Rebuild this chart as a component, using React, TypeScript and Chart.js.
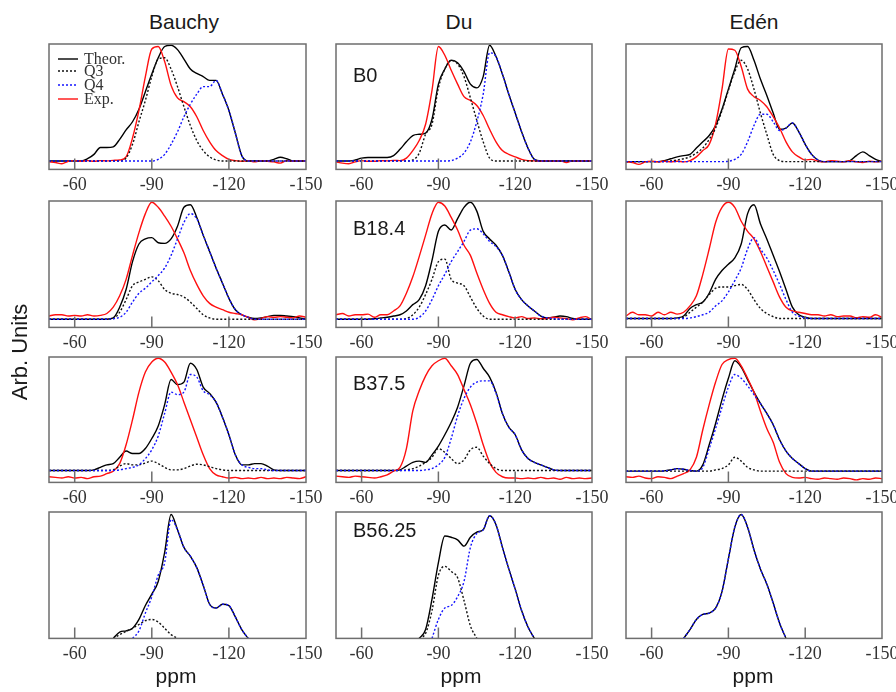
import React, { useEffect, useRef } from "react";
import { Chart, registerables } from "chart.js";

Chart.register(...registerables);

const N = null;

// ---------- DATA ----------
const PPM = [-50, -52.5, -55, -57.5, -60, -62.5, -65, -67.5, -70, -72.5, -75, -77.5, -80, -82.5, -85, -87.5, -90, -92.5, -95, -97.5, -100, -102.5, -105, -107.5, -110, -112.5, -115, -117.5, -120, -122.5, -125, -127.5, -130, -132.5, -135, -137.5, -140, -142.5, -145, -147.5, -150];
const TICK_VALUES = [-60, -90, -120, -150];
const TICK_MARKS = [-60, -90, -120];
const AUTHORS = ["Bauchy", "Du", "Edén"];
const SAMPLES = ["B0", "B18.4", "B37.5", "B56.25"];
const SERIES_NAMES = ["Theor.", "Q3", "Q4", "Exp."];
const X_TITLE = "ppm";
const Y_TITLE = "Arb. Units";

// Row 1: B0
const bauchyB0Theor = [.067, .067, .067, .067, .067, .067, .085, .12, .175, .175, .18, .24, .315, .38, .48, .62, .76, .89, .98, .99, .955, .88, .80, .765, .74, .71, .71, .60, .47, .29, .11, .067, .067, .067, .067, .08, .097, .085, .067, .067, .067];
const bauchyB0Q3 = [.067, .067, .067, .067, .067, .067, .067, .067, .067, .067, .067, .067, .09, .2, .38, .55, .74, .88, .89, .8, .66, .5, .35, .23, .15, .1, .075, .067, .067, .067, .067, .067, .067, .067, .067, .067, .067, .067, .067, .067, .067];
const bauchyB0Q4 = [.067, .067, .067, .067, .067, .067, .067, .067, .067, .067, .067, .067, .067, .067, .067, .067, .067, .08, .12, .2, .3, .42, .52, .6, .66, .66, .71, .6, .47, .29, .11, .067, .067, .067, .067, .067, .067, .067, .067, .067, .067];
const bauchyB0Exp = [.06, .055, .045, .065, .07, .065, .07, .065, .07, .068, .072, .075, .1, .25, .47, .74, .96, .98, .86, .67, .57, .54, .5, .42, .31, .22, .15, .11, .08, .07, .065, .07, .06, .07, .065, .06, .05, .07, .065, .07, .065];

const duB0Theor = [.067, .067, .067, .075, .09, .095, .095, .095, .095, .11, .16, .22, .27, .28, .29, .4, .68, .8, .87, .85, .78, .68, .65, .74, .99, .9, .76, .6, .45, .3, .17, .08, .067, .067, .067, .067, .067, .067, .067, .067, .067];
const duB0Q3 = [.067, .067, .067, .067, .067, .067, .067, .067, .067, .067, .067, .067, .075, .13, .28, .36, .65, .8, .87, .84, .74, .57, .39, .22, .09, .067, .067, .067, .067, .067, .067, .067, .067, .067, .067, .067, .067, .067, .067, .067, .067];
const duB0Q4 = [.067, .067, .067, .067, .067, .067, .067, .067, .067, .067, .067, .067, .067, .067, .067, .067, .067, .067, .07, .09, .13, .22, .38, .6, .93, .9, .76, .6, .45, .3, .17, .08, .067, .067, .067, .067, .067, .067, .067, .067, .067];
const duB0Exp = [.06, .05, .045, .06, .07, .065, .065, .07, .068, .072, .07, .09, .15, .23, .36, .63, .98, .91, .79, .68, .58, .55, .51, .43, .32, .22, .15, .12, .1, .08, .07, .068, .065, .07, .065, .07, .055, .068, .065, .07, .065];

const edenB0Theor = [.062, .062, .062, .062, .062, .062, .07, .085, .1, .11, .12, .17, .22, .27, .35, .48, .64, .8, .97, .98, .87, .72, .59, .45, .32, .33, .37, .3, .2, .12, .075, .062, .062, .062, .062, .07, .11, .14, .11, .08, .062];
const edenB0Q3 = [.062, .062, .062, .062, .062, .062, .062, .068, .075, .085, .1, .13, .17, .24, .33, .47, .63, .78, .87, .8, .64, .45, .28, .12, .07, .062, .062, .062, .062, .062, .062, .062, .062, .062, .062, .062, .062, .062, .062, .062, .062];
const edenB0Q4 = [.062, .062, .062, .062, .062, .062, .062, .062, .062, .062, .062, .062, .062, .062, .062, .062, .065, .08, .12, .22, .35, .44, .44, .38, .31, .33, .37, .3, .2, .12, .075, .062, .062, .062, .062, .062, .062, .062, .062, .062, .062];
const edenB0Exp = [.06, .055, .04, .06, .065, .06, .065, .06, .065, .06, .07, .1, .15, .2, .36, .64, .96, .95, .82, .64, .58, .55, .5, .42, .33, .22, .14, .1, .075, .08, .065, .06, .07, .065, .06, .07, .06, .055, .065, .06, .065];

// Row 2: B18.4
const bauchyB18Theor = [.065, .065, .065, .065, .065, .065, .065, .065, .065, .065, .075, .16, .3, .52, .66, .7, .71, .67, .665, .7, .8, .95, .97, .87, .73, .6, .47, .35, .23, .14, .1, .08, .07, .075, .085, .095, .095, .09, .085, .075, .065];
const bauchyB18Q3 = [.065, .065, .065, .065, .065, .065, .065, .065, .065, .065, .07, .12, .22, .33, .36, .38, .4, .37, .3, .27, .26, .24, .2, .15, .1, .075, .065, .065, .065, .065, .065, .065, .065, .065, .065, .065, .065, .065, .065, .065, .065];
const bauchyB18Q4 = [.065, .065, .065, .065, .065, .065, .065, .065, .065, .065, .068, .08, .12, .2, .27, .31, .36, .41, .47, .57, .7, .83, .9, .86, .73, .6, .47, .35, .23, .14, .1, .08, .065, .065, .065, .065, .065, .065, .065, .065, .065];
const bauchyB18Exp = [.09, .1, .1, .09, .095, .09, .1, .09, .095, .11, .16, .25, .38, .57, .75, .9, .99, .95, .88, .8, .7, .59, .45, .34, .25, .19, .16, .14, .12, .11, .1, .08, .06, .07, .085, .08, .085, .08, .075, .09, .08];

const duB18Theor = [.065, .065, .065, .065, .065, .065, .068, .075, .08, .09, .1, .13, .18, .22, .33, .53, .76, .81, .77, .86, .95, .99, .92, .76, .7, .65, .57, .44, .3, .22, .17, .13, .09, .075, .08, .09, .085, .07, .065, .065, .065];
const duB18Q3 = [.065, .065, .065, .065, .065, .065, .065, .065, .065, .065, .065, .07, .1, .16, .26, .38, .52, .54, .38, .35, .33, .24, .15, .09, .065, .065, .065, .065, .065, .065, .065, .065, .065, .065, .065, .065, .065, .065, .065, .065, .065];
const duB18Q4 = [.065, .065, .065, .065, .065, .065, .065, .065, .065, .065, .065, .065, .065, .08, .13, .22, .33, .42, .52, .6, .68, .77, .78, .74, .68, .64, .57, .44, .3, .22, .17, .13, .09, .075, .07, .065, .065, .065, .065, .065, .065];
const duB18Exp = [.1, .11, .09, .1, .1, .105, .08, .1, .1, .13, .17, .27, .4, .56, .73, .9, .99, .96, .87, .77, .65, .57, .43, .3, .19, .12, .1, .085, .075, .085, .07, .075, .068, .07, .08, .075, .07, .06, .075, .085, .06];

const edenB18Theor = [.07, .07, .07, .07, .07, .07, .07, .07, .075, .09, .15, .18, .2, .27, .38, .45, .5, .55, .66, .9, .97, .82, .7, .57, .44, .3, .16, .1, .08, .07, .07, .07, .07, .07, .07, .07, .07, .07, .07, .07, .07];
const edenB18Q3 = [.07, .07, .07, .07, .07, .07, .07, .07, .07, .08, .12, .16, .2, .26, .31, .32, .32, .33, .34, .3, .22, .15, .11, .085, .07, .07, .07, .07, .07, .07, .07, .07, .07, .07, .07, .07, .07, .07, .07, .07, .07];
const edenB18Q4 = [.07, .07, .07, .07, .07, .07, .07, .07, .07, .07, .075, .085, .1, .12, .17, .21, .28, .37, .47, .62, .71, .62, .55, .45, .34, .22, .12, .09, .075, .07, .07, .07, .07, .07, .07, .07, .07, .07, .07, .07, .07];
const edenB18Exp = [.09, .12, .1, .1, .09, .12, .1, .12, .105, .12, .17, .25, .42, .62, .83, .95, .99, .95, .84, .76, .7, .6, .48, .36, .24, .16, .13, .12, .11, .1, .1, .09, .1, .085, .09, .09, .075, .085, .08, .1, .08];

// Row 3: B37.5
const bauchyB37Theor = [.095, .095, .095, .095, .095, .095, .095, .1, .12, .14, .15, .2, .25, .23, .23, .27, .35, .45, .62, .82, .78, .8, .95, .9, .76, .71, .64, .52, .38, .22, .14, .14, .15, .15, .13, .1, .095, .095, .095, .095, .095];
const bauchyB37Q3 = [.095, .095, .095, .095, .095, .095, .095, .095, .095, .095, .1, .13, .15, .14, .14, .155, .17, .15, .12, .1, .1, .11, .13, .145, .14, .125, .11, .1, .095, .095, .095, .095, .095, .095, .095, .095, .095, .095, .095, .095, .095];
const bauchyB37Q4 = [.095, .095, .095, .095, .095, .095, .095, .095, .095, .095, .095, .1, .11, .12, .14, .19, .26, .37, .55, .72, .7, .72, .86, .84, .73, .7, .64, .52, .38, .22, .14, .12, .11, .11, .1, .095, .095, .095, .095, .095, .095];
const bauchyB37Exp = [.045, .04, .035, .045, .035, .04, .03, .045, .05, .07, .09, .15, .3, .5, .72, .88, .96, .99, .96, .88, .78, .64, .5, .36, .22, .11, .06, .045, .035, .04, .03, .035, .03, .04, .03, .035, .03, .04, .035, .03, .045];

const duB37Theor = [.095, .095, .095, .095, .095, .095, .095, .095, .095, .095, .1, .13, .16, .17, .16, .22, .29, .38, .48, .6, .77, .95, .98, .91, .84, .72, .55, .44, .38, .26, .19, .16, .14, .12, .1, .095, .095, .095, .095, .095, .095];
const duB37Q3 = [.095, .095, .095, .095, .095, .095, .095, .095, .095, .095, .095, .1, .11, .13, .16, .2, .27, .24, .19, .15, .18, .26, .28, .21, .15, .11, .095, .095, .095, .095, .095, .095, .095, .095, .095, .095, .095, .095, .095, .095, .095];
const duB37Q4 = [.095, .095, .095, .095, .095, .095, .095, .095, .095, .095, .095, .095, .095, .095, .1, .11, .14, .2, .35, .53, .67, .76, .8, .81, .81, .71, .55, .44, .38, .26, .19, .16, .14, .12, .1, .095, .095, .095, .095, .095, .095];
const duB37Exp = [.05, .045, .04, .05, .045, .04, .035, .045, .06, .09, .12, .27, .57, .73, .85, .93, .97, .99, .93, .86, .74, .62, .47, .3, .16, .08, .045, .035, .035, .03, .035, .03, .04, .03, .035, .025, .04, .03, .035, .03, .035];

const edenB37Theor = [.09, .09, .09, .09, .09, .09, .092, .1, .11, .105, .095, .09, .14, .3, .47, .66, .83, .97, .92, .82, .72, .63, .55, .46, .34, .25, .19, .15, .11, .09, .09, .09, .09, .09, .09, .09, .09, .09, .09, .09, .09];
const edenB37Q3 = [.09, .09, .09, .09, .09, .09, .09, .09, .09, .09, .09, .09, .09, .09, .1, .11, .14, .2, .17, .12, .1, .09, .09, .09, .09, .09, .09, .09, .09, .09, .09, .09, .09, .09, .09, .09, .09, .09, .09, .09, .09];
const edenB37Q4 = [.09, .09, .09, .09, .09, .09, .092, .1, .11, .105, .095, .09, .12, .27, .43, .6, .76, .86, .83, .77, .7, .63, .55, .46, .34, .25, .19, .15, .11, .09, .09, .09, .09, .09, .09, .09, .09, .09, .09, .09, .09];
const edenB37Exp = [.045, .04, .05, .035, .03, .045, .04, .03, .05, .07, .1, .2, .42, .62, .8, .94, .98, .99, .93, .83, .72, .57, .43, .32, .16, .07, .04, .035, .04, .03, .025, .035, .03, .025, .035, .03, .02, .03, .025, .035, .03];

// Row 4: B56.25 (no experimental spectrum)
const bauchyB56Theor = [N, N, N, N, N, N, N, N, N, N, 0, .05, .06, .08, .15, .26, .35, .45, .68, .98, .86, .72, .65, .56, .42, .27, .24, .27, .26, .17, .07, 0, N, N, N, N, N, N, N, N, N];
const bauchyB56Q3 = [N, N, N, N, N, N, N, N, N, N, 0, .03, .055, .08, .11, .14, .15, .13, .08, .03, 0, N, N, N, N, N, N, N, N, N, N, N, N, N, N, N, N, N, N, N, N];
const bauchyB56Q4 = [N, N, N, N, N, N, N, N, N, N, N, N, N, 0, .06, .2, .33, .5, .6, .94, .86, .72, .65, .56, .42, .27, .24, .27, .26, .17, .07, 0, N, N, N, N, N, N, N, N, N];

const duB56Theor = [N, N, N, N, N, N, N, N, N, N, N, N, N, 0, .07, .31, .6, .81, .8, .78, .73, .8, .84, .86, .97, .9, .72, .55, .39, .22, .09, 0, N, N, N, N, N, N, N, N, N];
const duB56Q3 = [N, N, N, N, N, N, N, N, N, N, N, N, N, 0, .04, .22, .5, .57, .53, .48, .3, .1, 0, N, N, N, N, N, N, N, N, N, N, N, N, N, N, N, N, N, N];
const duB56Q4 = [N, N, N, N, N, N, N, N, N, N, N, N, N, N, N, 0, .15, .24, .26, .33, .45, .72, .83, .86, .97, .9, .72, .55, .39, .22, .09, 0, N, N, N, N, N, N, N, N, N];

const edenB56Theor = [N, N, N, N, N, N, N, N, N, 0, .07, .15, .19, .2, .24, .37, .63, .88, .98, .88, .7, .55, .43, .28, .12, 0, N, N, N, N, N, N, N, N, N, N, N, N, N, N, N];
const edenB56Q4 = [N, N, N, N, N, N, N, N, N, 0, .07, .15, .19, .2, .24, .37, .63, .88, .98, .88, .7, .55, .43, .28, .12, 0, N, N, N, N, N, N, N, N, N, N, N, N, N, N, N];

type Series = (number | null)[];
interface PanelSpec { theor: Series; q3?: Series; q4: Series; exp?: Series }

const PANELS: PanelSpec[][] = [
  [
    { theor: bauchyB0Theor, q3: bauchyB0Q3, q4: bauchyB0Q4, exp: bauchyB0Exp },
    { theor: duB0Theor, q3: duB0Q3, q4: duB0Q4, exp: duB0Exp },
    { theor: edenB0Theor, q3: edenB0Q3, q4: edenB0Q4, exp: edenB0Exp },
  ],
  [
    { theor: bauchyB18Theor, q3: bauchyB18Q3, q4: bauchyB18Q4, exp: bauchyB18Exp },
    { theor: duB18Theor, q3: duB18Q3, q4: duB18Q4, exp: duB18Exp },
    { theor: edenB18Theor, q3: edenB18Q3, q4: edenB18Q4, exp: edenB18Exp },
  ],
  [
    { theor: bauchyB37Theor, q3: bauchyB37Q3, q4: bauchyB37Q4, exp: bauchyB37Exp },
    { theor: duB37Theor, q3: duB37Q3, q4: duB37Q4, exp: duB37Exp },
    { theor: edenB37Theor, q3: edenB37Q3, q4: edenB37Q4, exp: edenB37Exp },
  ],
  [
    { theor: bauchyB56Theor, q3: bauchyB56Q3, q4: bauchyB56Q4 },
    { theor: duB56Theor, q3: duB56Q3, q4: duB56Q4 },
    { theor: edenB56Theor, q4: edenB56Q4 },
  ],
];

// ---------- LAYOUT & STYLE ----------
const COL_LEFT = [49, 336, 626];
const COL_WIDTH = [257, 256, 256];
const ROW_TOP = [44, 201, 357, 512];
const ROW_HEIGHT = [130, 131, 130, 131];
const PAD_X = 24;
const PAD_T = 4;
const AXIS_H = 27;

const TITLE_CX = [184, 459, 754];
const XLABEL_CX = [176, 461, 753];
const SAMPLE_LEFT = 353;
const SAMPLE_TOP = [65, 218, 373, 520];

const SANS = '"Liberation Sans", Arial, sans-serif';
const SERIF = '"Liberation Serif", "Times New Roman", serif';

const STYLE: Record<string, { color: string; dash: number[] }> = {
  theor: { color: "#000000", dash: [] },
  q3: { color: "#111111", dash: [2, 2] },
  q4: { color: "#1414ff", dash: [2, 2] },
  exp: { color: "#ff1010", dash: [] },
};
const LEGEND_KEYS = ["theor", "q3", "q4", "exp"];
const LEGEND_ROWS = [15, 27, 41, 55];

const framePlugin = {
  id: "frame",
  afterDatasetsDraw(chart: any, _args: any, opts: any) {
    const { ctx, chartArea: a, scales } = chart;
    ctx.save();
    ctx.strokeStyle = "#6e6e6e";
    ctx.lineWidth = 1.5;
    ctx.setLineDash([]);
    ctx.strokeRect(a.left, a.top, a.right - a.left, a.bottom - a.top);
    ctx.beginPath();
    for (const v of TICK_MARKS) {
      const x = scales.x.getPixelForValue(v);
      ctx.moveTo(x, a.bottom);
      ctx.lineTo(x, a.bottom - 11);
    }
    ctx.stroke();
    if (opts && opts.legend) {
      ctx.font = `16px ${SERIF}`;
      ctx.textBaseline = "middle";
      ctx.textAlign = "left";
      LEGEND_KEYS.forEach((k, i) => {
        const y = a.top + LEGEND_ROWS[i];
        ctx.beginPath();
        ctx.setLineDash(STYLE[k].dash);
        ctx.strokeStyle = STYLE[k].color;
        ctx.lineWidth = 1.4;
        ctx.moveTo(a.left + 9, y);
        ctx.lineTo(a.left + 29, y);
        ctx.stroke();
        ctx.setLineDash([]);
        ctx.fillStyle = "#333333";
        ctx.fillText(SERIES_NAMES[i], a.left + 35, y + 1);
      });
    }
    ctx.restore();
  },
};

function Panel({ row, col }: { row: number; col: number }) {
  const ref = useRef<HTMLCanvasElement>(null);
  const spec = PANELS[row][col];
  const w = COL_WIDTH[col] + 2 * PAD_X;
  const h = ROW_HEIGHT[row] + PAD_T + AXIS_H;

  useEffect(() => {
    if (!ref.current) return;
    const mk = (key: string, values: Series) => ({
      label: key,
      data: PPM.map((p, i) => ({ x: p, y: values[i] })),
      borderColor: STYLE[key].color,
      borderDash: STYLE[key].dash,
      borderWidth: 1.4,
      pointRadius: 0,
      fill: false,
      cubicInterpolationMode: "monotone" as const,
      spanGaps: false,
    });
    const datasets: any[] = [mk("q4", spec.q4)];
    if (spec.q3) datasets.push(mk("q3", spec.q3));
    if (spec.exp) datasets.push(mk("exp", spec.exp));
    datasets.push(mk("theor", spec.theor));

    const chart = new Chart(ref.current, {
      type: "line",
      data: { datasets },
      options: {
        animation: false,
        responsive: false,
        maintainAspectRatio: false,
        layout: { padding: { left: PAD_X, right: PAD_X, top: PAD_T, bottom: 0 } },
        plugins: {
          legend: { display: false },
          tooltip: { enabled: false },
          frame: { legend: row === 0 && col === 0 },
        } as any,
        scales: {
          x: {
            type: "linear",
            min: -150,
            max: -50,
            reverse: true,
            afterBuildTicks: (axis: any) => {
              axis.ticks = TICK_VALUES.map((v) => ({ value: v }));
            },
            grid: { display: false, drawTicks: false },
            border: { display: false },
            ticks: {
              padding: 5,
              color: "#333333",
              autoSkip: false,
              maxRotation: 0,
              font: { family: SERIF, size: 18 },
              callback: (v: any) => String(v),
            },
          },
          y: { display: false, min: 0, max: 1 },
        },
      },
      plugins: [framePlugin],
    } as any);
    return () => chart.destroy();
  }, []);

  return (
    <canvas
      ref={ref}
      width={w}
      height={h}
      style={{ position: "absolute", left: COL_LEFT[col] - PAD_X, top: ROW_TOP[row] - PAD_T, width: w, height: h }}
    />
  );
}

export default function App() {
  const text = (extra: React.CSSProperties): React.CSSProperties => ({
    position: "absolute",
    fontFamily: SANS,
    color: "#1a1a1a",
    lineHeight: 1,
    whiteSpace: "nowrap",
    ...extra,
  });
  return (
    <div style={{ position: "absolute", left: 0, top: 0, width: 896, height: 692, overflow: "hidden", background: "#ffffff" }}>
      {AUTHORS.map((a, c) => (
        <div key={a} style={text({ left: TITLE_CX[c] - 100, width: 200, top: 11, fontSize: 21, textAlign: "center" })}>{a}</div>
      ))}
      {PANELS.map((r, ri) => r.map((_, ci) => <Panel key={`${ri}-${ci}`} row={ri} col={ci} />))}
      {SAMPLES.map((s, ri) => (
        <div key={s} style={text({ left: SAMPLE_LEFT, top: SAMPLE_TOP[ri], fontSize: 20 })}>{s}</div>
      ))}
      {XLABEL_CX.map((cx, c) => (
        <div key={c} style={text({ left: cx - 60, width: 120, top: 665, fontSize: 21, textAlign: "center" })}>{X_TITLE}</div>
      ))}
      <div
        style={text({
          left: 20 - 100,
          top: 352 - 12,
          width: 200,
          height: 24,
          lineHeight: "24px",
          fontSize: 22,
          textAlign: "center",
          transform: "rotate(-90deg)",
        })}
      >
        {Y_TITLE}
      </div>
    </div>
  );
}
